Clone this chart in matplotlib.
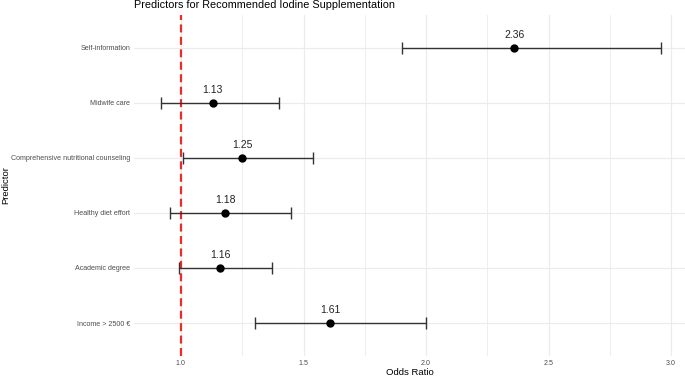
import matplotlib
matplotlib.use("Agg")
import matplotlib.pyplot as plt
from matplotlib.ticker import MultipleLocator

predictors = ["Self-information", "Midwife care", "Comprehensive nutritional counseling",
              "Healthy diet effort", "Academic degree", "Income > 2500 €"]
odds = [2.36, 1.13, 1.25, 1.18, 1.16, 1.61]
lower = [1.90, 0.92, 1.01, 0.955, 0.99, 1.30]
upper = [2.96, 1.40, 1.54, 1.45, 1.37, 2.00]
labels = ["2.36", "1.13", "1.25", "1.18", "1.16", "1.61"]
xticks = [1.0, 1.5, 2.0, 2.5, 3.0]

plt.rcParams['font.family'] = ['Liberation Sans', 'DejaVu Sans']

fig = plt.figure(figsize=(6.85, 3.77), dpi=100)
left_px, right_px, top_px, bot_px = 134, 685, 15, 356
ax = fig.add_axes([left_px/685, 1 - bot_px/377, (right_px-left_px)/685, (bot_px-top_px)/377])

n = len(predictors)
ypos = [n - 1 - i for i in range(n)]

ax.errorbar(odds, ypos, xerr=[[o - l for o, l in zip(odds, lower)],
                              [u - o for o, u in zip(odds, upper)]],
            fmt='o', color='black', ecolor='#333333', elinewidth=1.0, capsize=4.5,
            capthick=1.0, markersize=5, zorder=3)
ax.axvline(1.0, color='#ee2b24', linestyle=(0, (3.6, 2.0)), linewidth=1.6, zorder=2)
for o, y, t in zip(odds, ypos, labels):
    ax.annotate(t, (o, y), xytext=(0, 6), textcoords='offset points',
                ha='center', va='bottom', fontsize=7.5, color='#222222')

x0 = 1.0 - (181 - left_px) / 245
ax.set_xlim(x0, x0 + (right_px - left_px) / 245)
ax.set_ylim(-0.6, n - 1 + 0.6)
ax.set_yticks(ypos)
ax.set_yticklabels(predictors)
ax.set_xticks(xticks)
ax.set_xticklabels([f"{v:.1f}" for v in xticks])
ax.xaxis.set_minor_locator(MultipleLocator(0.25))
ax.grid(True, which='major', color='#ebebeb', linewidth=0.8)
ax.grid(True, which='minor', axis='x', color='#ebebeb', linewidth=0.6)
ax.set_axisbelow(True)
for s in ax.spines.values():
    s.set_visible(False)
ax.tick_params(axis='both', which='both', length=0, labelsize=5.1, labelcolor='#4d4d4d', pad=2.8)
ax.set_xlabel("Odds Ratio", fontsize=6.8, color='black', labelpad=1)
ax.set_ylabel("Predictor", fontsize=6.8, color='black')
ax.yaxis.set_label_coords(-(left_px - 10) / (right_px - left_px), 0.5)
fig.text(134/685, 1 - 5.5/377, "Predictors for Recommended Iodine Supplementation",
         fontsize=7.8, ha='left', va='center', color='black')

fig.savefig("out.png", dpi=100)
